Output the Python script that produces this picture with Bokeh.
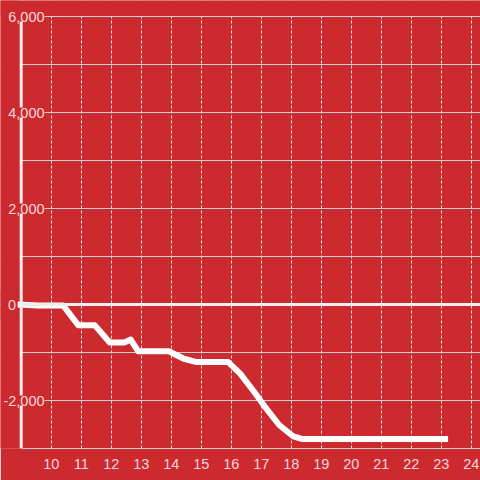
from bokeh.plotting import figure
from bokeh.models import Span, LabelSet, ColumnDataSource, FixedTicker, BoxAnnotation
from bokeh.core.properties import value
from bokeh.embed import file_html
from bokeh.resources import INLINE

# ---- data ----
x_vals = [8.877, 9.58, 10.4, 10.9, 11.45, 11.95, 12.45, 12.65, 12.9, 13.92,
          14.42, 14.85, 15.9, 16.3, 16.8, 17.1, 17.6, 18.05, 18.35, 23.23]
y_vals = [0, -20, -20, -430, -430, -790, -790, -730, -975, -975,
          -1130, -1200, -1200, -1440, -1850, -2110, -2510, -2740, -2800, -2800]
x_ticks = [10, 11, 12, 13, 14, 15, 16, 17, 18, 19, 20, 21, 22, 23, 24]
y_grid_ticks = [-3000, -2000, -1000, 0, 1000, 2000, 3000, 4000, 5000, 6000]
y_label_values = [6000, 4000, 2000, 0, -2000]
y_label_texts = ["6,000", "4,000", "2,000", "0", "-2,000"]

BG = "#cc2a2e"
TXT = "#f4d8d9"
FONT = "Liberation Sans"
FS = "14.5px"
X0 = 10 - 50.7 / 30          # frame left edge (data units)
X1 = 10 + (480 - 50.7) / 30  # frame right edge
Y_MIN, Y_MAX = -3000, 6000
Y_TOP = Y_MAX + 16 * 1000 / 48  # frame extends to the top of the canvas

p = figure(width=480, height=480, output_backend="svg", toolbar_location=None,
           x_range=(X0, X1), y_range=(Y_MIN, Y_TOP),
           min_border_left=0, min_border_right=0, min_border_top=0,
           min_border_bottom=32,
           background_fill_color=BG, border_fill_color=BG,
           outline_line_color=None)
p.margin = (0, 0, 0, 0)

p.yaxis.visible = False
p.ygrid.ticker = FixedTicker(ticks=y_grid_ticks)
p.ygrid.grid_line_color = "#cfcfcf"
p.ygrid.grid_line_width = 1

p.xaxis.ticker = FixedTicker(ticks=x_ticks)
p.xaxis.bounds = (9.05, X1)
p.xaxis.major_tick_line_color = None
p.xaxis.minor_tick_line_color = None
p.xaxis.axis_line_color = "#cfcfcf"
p.xaxis.major_label_text_color = TXT
p.xaxis.major_label_text_font = FONT
p.xaxis.major_label_text_font_size = FS
p.xaxis.major_label_standoff = 4
p.xgrid.grid_line_color = "#e6e6e6"
p.xgrid.grid_line_dash = "3 2"
p.xgrid.grid_line_width = 1

# cover the grid left of the axis line
p.add_layout(BoxAnnotation(right=8.95, fill_color=BG, fill_alpha=1,
                           line_color=None, level="underlay"))

p.line(x_vals, y_vals, line_color="white", line_width=6, line_join="round")

p.add_layout(Span(location=9, dimension="height", line_color="#eeeeee", line_width=3))
p.add_layout(Span(location=0, dimension="width", line_color="#eeeeee", line_width=3))
# the zero line starts where the data starts
p.add_layout(BoxAnnotation(right=x_vals[0], top=300, bottom=-300, fill_color=BG,
                           fill_alpha=1, line_color=None))
# nothing drawn above the top grid line
p.add_layout(BoxAnnotation(bottom=Y_MAX + 12, fill_color=BG,
                           fill_alpha=1, line_color=None))

label_x = [8.827 if t == "0" else 9.777 for t in y_label_texts]
src = ColumnDataSource(dict(x=label_x, y=y_label_values, text=y_label_texts))
p.add_layout(LabelSet(x="x", y="y", text="text", source=src,
                      text_align="right", text_baseline="middle",
                      text_font=value(FONT), text_font_size=value(FS),
                      text_color=TXT,
                      background_fill_color=BG, background_fill_alpha=1.0))

open("out.html", "w").write(file_html(p, INLINE))
